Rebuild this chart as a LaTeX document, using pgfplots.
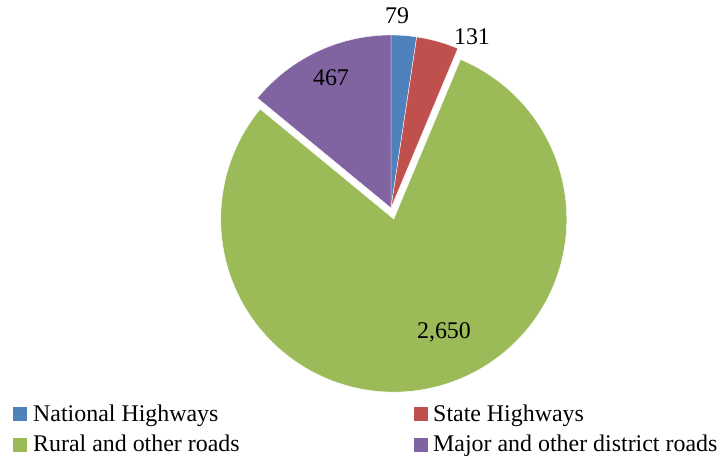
\documentclass[border=0pt]{standalone}
\usepackage{pgfplots}
\pgfplotsset{compat=1.18}
\usepackage{pgfplotstable}
\usepackage{fontspec}
\setmainfont{Liberation Serif}
\definecolor{nh}{HTML}{4F81BD}
\definecolor{sh}{HTML}{C0504D}
\definecolor{rr}{HTML}{9BBB59}
\definecolor{md}{HTML}{8064A2}
\pgfplotstableread{
value
79
131
2650
467
}\pietable
\pgfplotstablegetelem{0}{value}\of\pietable \let\va\pgfplotsretval
\pgfplotstablegetelem{1}{value}\of\pietable \let\vb\pgfplotsretval
\pgfplotstablegetelem{2}{value}\of\pietable \let\vc\pgfplotsretval
\pgfplotstablegetelem{3}{value}\of\pietable \let\vd\pgfplotsretval
\pgfmathsetmacro\tot{\va+\vb+\vc+\vd}
\pgfmathsetmacro\aA{90}
\pgfmathsetmacro\aB{90-360*(\va/\tot)}
\pgfmathsetmacro\aC{\aB-360*(\vb/\tot)}
\pgfmathsetmacro\aD{\aC-360*(\vc/\tot)}
\pgfmathsetmacro\aE{\aD-360*(\vd/\tot)}
\pgfmathsetmacro\cx{391}
\pgfmathsetmacro\cy{248}
\pgfmathsetmacro\gm{(\aC+\aD)/2}
\pgfmathsetmacro\gx{\cx+11.4*cos(\gm)}
\pgfmathsetmacro\gy{\cy+11.4*sin(\gm)}
\begin{document}%
\begin{tikzpicture}
\begin{axis}[hide axis, scale only axis, width=719bp, height=456bp,
  xmin=0, xmax=719, ymin=0, ymax=456, clip=false]
\fill[nh, draw=white, line width=0.4pt] (axis cs:\cx,\cy) -- ++(\aA:173bp) arc[start angle=\aA, end angle=\aB, radius=173bp] -- cycle;
\fill[sh, draw=white, line width=0.4pt] (axis cs:\cx,\cy) -- ++(\aB:173bp) arc[start angle=\aB, end angle=\aC, radius=173bp] -- cycle;
\fill[rr, draw=white, line width=0.4pt] (axis cs:\gx,\gy) -- ++(\aC:173bp) arc[start angle=\aC, end angle=\aD, radius=173bp] -- cycle;
\fill[md, draw=white, line width=0.4pt] (axis cs:\cx,\cy) -- ++(\aD:173bp) arc[start angle=\aD, end angle=\aE, radius=173bp] -- cycle;
\node[font=\fontsize{24}{26}\selectfont, inner sep=0pt] at (axis cs:397,440) {79};
\node[font=\fontsize{24}{26}\selectfont, inner sep=0pt] at (axis cs:472,419) {131};
\node[font=\fontsize{24}{26}\selectfont, inner sep=0pt] at (axis cs:331,378) {467};
\node[font=\fontsize{24}{26}\selectfont, inner sep=0pt] at (axis cs:444,124) {2,650};
% legend
\fill[nh] (axis cs:13,35) rectangle (axis cs:27,49);
\fill[sh] (axis cs:414,35) rectangle (axis cs:428,49);
\fill[rr] (axis cs:13,4) rectangle (axis cs:27,18);
\fill[md] (axis cs:414,4) rectangle (axis cs:428,18);
\node[font=\fontsize{24}{26}\selectfont, inner sep=0pt, anchor=base west] at (axis cs:33,34) {National Highways};
\node[font=\fontsize{24}{26}\selectfont, inner sep=0pt, anchor=base west] at (axis cs:433,34) {State Highways};
\node[font=\fontsize{24}{26}\selectfont, inner sep=0pt, anchor=base west] at (axis cs:33,4) {Rural and other roads};
\node[font=\fontsize{24}{26}\selectfont, inner sep=0pt, anchor=base west] at (axis cs:433,4) {Major and other district roads};
\end{axis}
\pgfresetboundingbox
\useasboundingbox (current axis.south west) rectangle (current axis.north east);
\end{tikzpicture}%
\end{document}
